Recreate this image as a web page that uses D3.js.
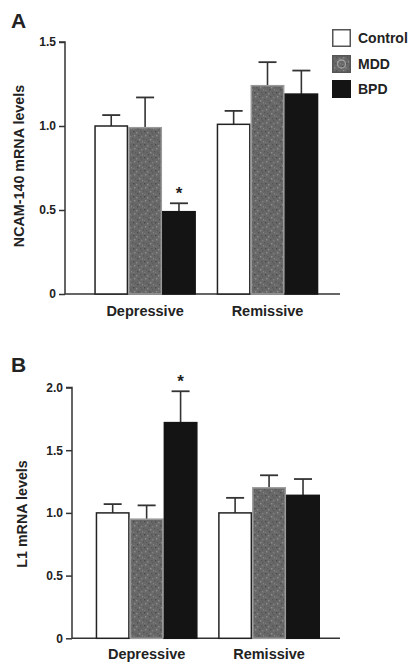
<!DOCTYPE html>
<html><head><meta charset="utf-8">
<script src="https://cdn.jsdelivr.net/npm/d3@7"></script>
<style>body{margin:0;background:#fff}svg{display:block}text{font-family:"Liberation Sans",Arial,sans-serif;font-weight:bold;fill:#222}</style>
</head><body>
<script>
const categories = ["Depressive", "Remissive"];
const series = ["Control", "MDD", "BPD"];
// Panel A: NCAM-140 mRNA levels
const ncamMeans = [[1.00, 0.99, 0.49], [1.01, 1.24, 1.19]];
const ncamErrors = [[0.065, 0.18, 0.05], [0.08, 0.14, 0.14]];
const ncamTicks = [0, 0.5, 1.0, 1.5];
const ncamStars = [[false, false, true], [false, false, false]];
// Panel B: L1 mRNA levels
const l1Means = [[1.00, 0.95, 1.72], [1.00, 1.20, 1.14]];
const l1Errors = [[0.07, 0.11, 0.25], [0.12, 0.10, 0.13]];
const l1Ticks = [0, 0.5, 1.0, 1.5, 2.0];
const l1Stars = [[false, false, true], [false, false, false]];

const W = 411, H = 662;
const svg = d3.select("body").append("svg").attr("width", W).attr("height", H);
const defs = svg.append("defs");
const pat = defs.append("pattern").attr("id", "stip").attr("patternUnits", "userSpaceOnUse")
  .attr("width", 11).attr("height", 13);
pat.append("rect").attr("width", 11).attr("height", 13).attr("fill", "#686868");
const dots = [[1,1,"#4a4a4a"],[4,2,"#8a8a8a"],[8,1,"#555"],[2,5,"#8e8e8e"],[6,5,"#505050"],[9,6,"#7f7f7f"],
  [0,8,"#585858"],[3,9,"#5c5c5c"],[7,9,"#909090"],[5,11,"#4e4e4e"],[10,11,"#858585"],[1,12,"#7a7a7a"],[9,3,"#5a5a5a"]];
dots.forEach(d => pat.append("rect").attr("x", d[0]).attr("y", d[1]).attr("width", 1.4).attr("height", 1.4).attr("fill", d[2]));

const fills = {Control: "#ffffff", MDD: "url(#stip)", BPD: "#141414"};
const strokes = {Control: "#222", MDD: "#9a9a9a", BPD: "#141414"};

function panel(o) {
  const g = svg.append("g");
  const y = d3.scaleLinear().domain([0, o.max]).range([o.y0, o.yTop]);
  const x = d3.scaleBand().domain(categories).range([o.bx0, o.bx1]).paddingInner(o.pad);
  const xs = d3.scaleBand().domain(series).range([0, x.bandwidth()]);
  const ya = g.append("g").attr("transform", `translate(${o.ax},0)`)
    .call(d3.axisLeft(y).tickValues(o.ticks).tickSize(6).tickPadding(3)
      .tickFormat(v => v === 0 ? "0" : d3.format(".1f")(v)));
  ya.select(".domain").attr("stroke", "#333").attr("stroke-width", 1.5).attr("d", `M-6,${y(o.max)}H0V${o.y0}`);
  ya.selectAll(".tick line").attr("stroke", "#333").attr("stroke-width", 1.5);
  ya.selectAll(".tick text").style("font-size", "12px").attr("fill", "#2a2a2a").style("font-family", '"Liberation Sans",Arial,sans-serif').style("font-weight", "bold");
  g.append("line").attr("x1", o.ax).attr("x2", 340).attr("y1", o.y0).attr("y2", o.y0)
    .attr("stroke", "#333").attr("stroke-width", 1.5);
  categories.forEach((c, ci) => {
    series.forEach((s, si) => {
      const v = o.means[ci][si], e = o.errors[ci][si];
      const bx = x(c) + xs(s), bw = xs.bandwidth(), cx = bx + bw / 2;
      g.append("line").attr("x1", cx).attr("x2", cx).attr("y1", y(v)).attr("y2", y(v + e))
        .attr("stroke", "#333").attr("stroke-width", 1.6);
      g.append("line").attr("x1", cx - 9).attr("x2", cx + 9).attr("y1", y(v + e)).attr("y2", y(v + e))
        .attr("stroke", "#333").attr("stroke-width", 1.8);
      g.append("rect").attr("x", bx + 0.75).attr("y", y(v)).attr("width", bw - 1.5).attr("height", o.y0 - y(v))
        .attr("fill", fills[s]).attr("stroke", strokes[s]).attr("stroke-width", 1.5);
      if (o.stars[ci][si]) {
        g.append("text").attr("x", cx).attr("y", y(v + e) - 4).attr("text-anchor", "middle")
          .style("font-size", "17px").text("*");
      }
    });
    g.append("text").attr("x", x(c) + x.bandwidth() / 2).attr("y", o.labelY).attr("text-anchor", "middle")
      .style("font-size", "14.5px").text(c);
  });
  g.append("text").attr("transform", `translate(${o.ylx},${o.yly}) rotate(-90)`).attr("text-anchor", "middle")
    .attr("dominant-baseline", "central").style("font-size", "14.3px").text(o.ylabel);
  g.append("text").attr("x", 11).attr("y", o.letterY).style("font-size", "21px").text(o.letter);
}

panel({letter: "A", letterY: 28, max: 1.5, y0: 294, yTop: 42, ax: 65, bx0: 94.3, bx1: 318.3, pad: 0.17,
  ticks: ncamTicks, means: ncamMeans, errors: ncamErrors, stars: ncamStars, labelY: 316,
  ylabel: "NCAM-140 mRNA levels", ylx: 19, yly: 166});
panel({letter: "B", letterY: 372, max: 2.0, y0: 638.3, yTop: 387.5, ax: 72, bx0: 95.7, bx1: 320, pad: 0.168,
  ticks: l1Ticks, means: l1Means, errors: l1Errors, stars: l1Stars, labelY: 659,
  ylabel: "L1 mRNA levels", ylx: 22, yly: 514});

// legend
const lg = svg.append("g");
series.forEach((s, i) => {
  const yy = [29, 55, 80][i];
  lg.append("rect").attr("x", 332.75).attr("y", yy + 0.75).attr("width", 17.5).attr("height", 16.5)
    .attr("fill", fills[s]).attr("stroke", s === "BPD" ? "#141414" : "#555").attr("stroke-width", 1.5);
  if (s === "MDD") {
    lg.append("circle").attr("cx", 341.5).attr("cy", yy + 9).attr("r", 4)
      .attr("fill", "none").attr("stroke", "#a0a0a0").attr("stroke-width", 1.3);
  }
  lg.append("text").attr("x", 358).attr("y", yy + 14).style("font-size", "14px").text(s);
});
</script>
</body></html>
